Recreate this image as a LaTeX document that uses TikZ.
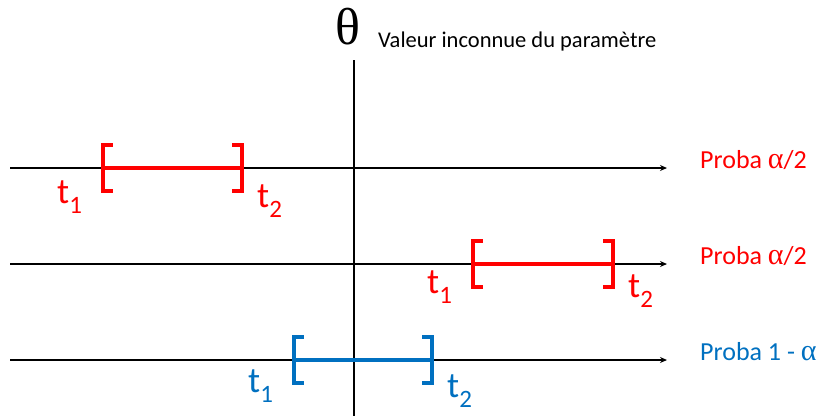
\documentclass[tikz,border=0pt]{standalone}
\usepackage{fontspec}
\setmainfont{Carlito}
\newfontfamily\grec{Liberation Serif}
\usetikzlibrary{arrows.meta}
\definecolor{rouge}{RGB}{255,0,0}
\definecolor{bleu}{RGB}{0,112,192}

\newcommand{\tind}[1]{t\raisebox{-0.28em}{\fontsize{25}{25}\selectfont #1}}

\begin{document}
\begin{tikzpicture}[x=1pt,y=-1pt]
  \useasboundingbox (0,0) rectangle (820,416);
  \tikzset{
    axe/.style={-{Stealth[length=7pt,width=6pt]},line width=1.2pt},
    borne/.style={line width=3.6pt},
    etiq/.style={anchor=base west,font=\fontsize{36}{36}\selectfont,inner sep=0pt},
    proba/.style={anchor=base west,font=\fontsize{26}{26}\selectfont,inner sep=0pt}
  }
  \def\bh{23}
  \def\bw{8}
  % axe du parametre
  \coordinate (haut) at (354,60);
  \coordinate (bas) at (354,416);
  \draw[line width=1.2pt] (haut) -- (bas);
  \node[font=\grec\fontsize{52}{52}\selectfont,inner sep=0pt] (theta) at (348,27) {θ};
  \node[anchor=base west,font=\fontsize{22.5}{22.5}\selectfont,inner sep=0pt] (valeur) at (378,47) {Valeur inconnue du paramètre};
  % trois intervalles
  \foreach \i/\y/\a/\b/\ya/\yb/\col/\lab in {
      1/168/103/242/203/207/rouge/{Proba {\grec\fontsize{30}{30}\selectfont α}/2},
      2/264/473/613/293/297/rouge/{Proba {\grec\fontsize{30}{30}\selectfont α}/2},
      3/360/294/432/392/397/bleu/{Proba 1 - {\grec\fontsize{30}{30}\selectfont α}}}{
    \coordinate (g\i) at (10,\y);
    \coordinate (d\i) at (667,\y);
    \draw[axe] (g\i) -- (d\i);
    \coordinate (a\i) at (\a,\y);
    \coordinate (b\i) at (\b,\y);
    \draw[borne,\col] (a\i) -- (b\i);
    \draw[borne,\col,line cap=rect] ([xshift=\bw]\a,\y-\bh) -| (\a,\y+\bh) -- ++(\bw,0);
    \draw[borne,\col,line cap=rect] ([xshift=-\bw]\b,\y-\bh) -| (\b,\y+\bh) -- ++(-\bw,0);
    \node[etiq,text=\col] (t1\i) at (\a-46,\ya) {\tind{1}};
    \node[etiq,text=\col] (t2\i) at (\b+15,\yb) {\tind{2}};
    \node[proba,text=\col] (p\i) at (700,\y) {\lab};
  }
\end{tikzpicture}
\end{document}
